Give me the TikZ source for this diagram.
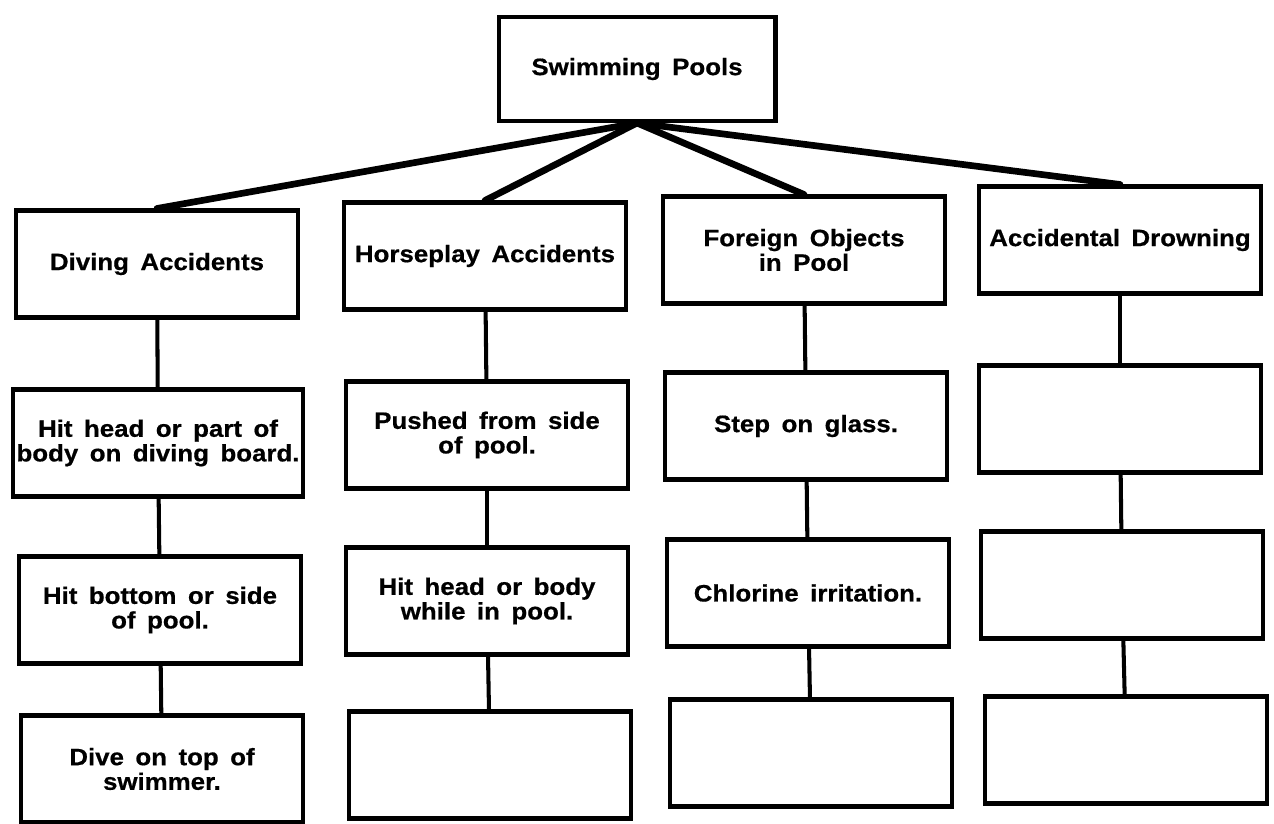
\documentclass[tikz,border=0pt]{standalone}
\usepackage{fontspec}
\setmainfont{Liberation Sans}[FakeStretch=1.09, WordSpace=1.6, BoldFeatures={FakeBold=0.6}]
\tikzset{
  itembox/.style={draw, line width=2.3pt, fill=white, minimum width=5.64cm,
    minimum height=2.14cm, align=center, inner sep=2pt,
    font=\bfseries\fontsize{13.5}{14}\selectfont},
  topbox/.style={itembox, minimum width=5.54cm, minimum height=2.08cm},
  fan/.style={line width=3.8pt, line cap=round},
  link/.style={line width=2.3pt}
}

\begin{document}
\begin{tikzpicture}[x=0.02cm, y=-0.02cm]
  \useasboundingbox (0,0) rectangle (1274,824);

  % Root
  \node[topbox] (pools) at (637,69) {Swimming Pools};

  % Diving column
  \node[itembox] (dive)  at (157,264) {Diving Accidents};
  \node[itembox] (dive2) at (158,443) {Hit head or part of\\body on diving board.};
  \node[itembox] (dive3) at (160,610) {Hit bottom or side\\of pool.};
  \node[itembox] (dive4) at (162,769) {Dive on top of\\swimmer.};

  % Horseplay column
  \node[itembox] (horse)  at (485,256) {Horseplay Accidents};
  \node[itembox] (horse2) at (487,435) {Pushed from side\\of pool.};
  \node[itembox] (horse3) at (487,601) {Hit head or body\\while in pool.};
  \node[itembox] (horse4) at (490,765) {};

  % Foreign objects column
  \node[itembox] (foreign)  at (804,250) {Foreign Objects\\in Pool};
  \node[itembox] (foreign2) at (806,426) {Step on glass.};
  \node[itembox] (foreign3) at (808,593) {Chlorine irritation.};
  \node[itembox] (foreign4) at (811,753) {};

  % Drowning column
  \node[itembox] (drown)  at (1120,240) {Accidental Drowning};
  \node[itembox] (drown2) at (1120,419) {};
  \node[itembox] (drown3) at (1122,585) {};
  \node[itembox] (drown4) at (1126,750) {};

  % Fan out from the root
  \draw[fan] (pools.south) -- (dive.north);
  \draw[fan] (pools.south) -- (horse.north);
  \draw[fan] (pools.south) -- (foreign.north);
  \draw[fan] (pools.south) -- (drown.north);

  % Column links
  \foreach \c in {dive, horse, foreign, drown} {
    \draw[link] (\c) -- (\c2);
    \draw[link] (\c2) -- (\c3);
    \draw[link] (\c3) -- (\c4);
  }
\end{tikzpicture}
\end{document}
